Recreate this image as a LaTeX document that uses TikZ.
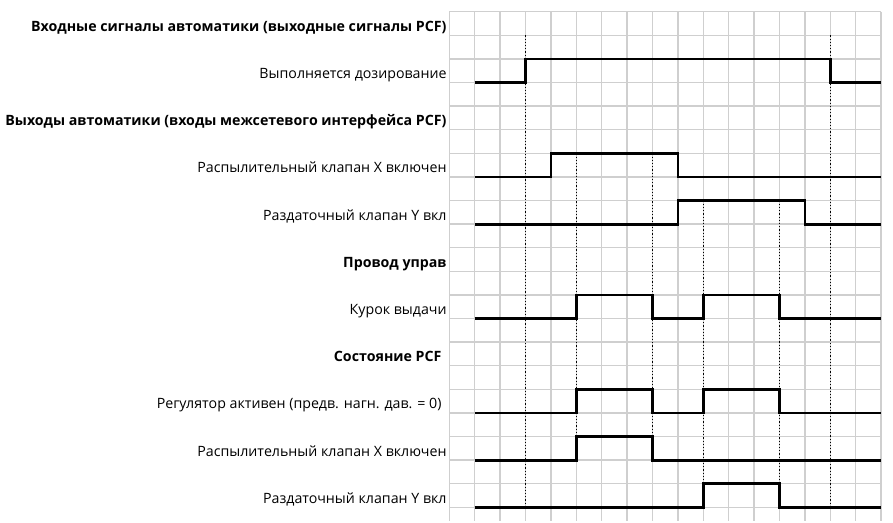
\documentclass[tikz,border=0pt]{standalone}
\usepackage{fontspec}
\setmainfont{Open Sans}
\usetikzlibrary{positioning}

\begin{document}
\begin{tikzpicture}[
  font=\fontsize{14.2}{17}\selectfont,
  gridline/.style={gray!38, line width=1.4pt},
  marker/.style={black, dotted, line width=1.2pt},
  wave/.style={black, line width=2.8pt, line join=miter},
  sig/.style={anchor=base east, inner sep=0pt},
  head/.style={sig, font=\fontsize{14.2}{17}\selectfont\bfseries}
]
\useasboundingbox (0,0) rectangle (893pt,-522pt);
\begin{scope}[shift={(449.3pt,-11.7pt)}, x=25.4pt, y=-23.6pt]
  % grid
  \foreach \k in {0,...,21}
    \draw[gridline] (0,\k) -- (17,\k);
  \foreach \c in {0,...,17}
    \draw[gridline] (\c,0) -- (\c,21.6);

  % timing marks
  \draw[marker] (3,1) -- (3,21);
  \draw[marker] (15,1) -- (15,21);
  \draw[marker] (5,6) -- (5,18);
  \draw[marker] (8,6) -- (8,18);
  \draw[marker] (10,8) -- (10,20);
  \draw[marker] (13,8) -- (13,20);

  % labels
  \node[head] (hdrin)   at (-0.1,0.83)  {Входные сигналы автоматики (выходные сигналы PCF)};
  \node[sig]  (dosing)  at (-0.1,2.83)  {Выполняется дозирование};
  \node[head] (hdrout)  at (-0.1,4.83)  {Выходы автоматики (входы межсетевого интерфейса PCF)};
  \node[sig]  (sprayx)  at (-0.1,6.83)  {Распылительный клапан X включен};
  \node[sig]  (dispy)   at (-0.1,8.83)  {Раздаточный клапан Y вкл};
  \node[head] (hdrwire) at (-0.1,10.83) {Провод управ};
  \node[sig]  (trigger) at (-0.1,12.83) {Курок выдачи};
  \node[head] (hdrpcf)  at (-0.3,14.83) {Состояние PCF};
  \node[sig]  (regact)  at (-0.3,16.83) {Регулятор активен (предв. нагн. дав. = 0)};
  \node[sig]  (pcfx)    at (-0.1,18.83) {Распылительный клапан X включен};
  \node[sig]  (pcfy)    at (-0.1,20.83) {Раздаточный клапан Y вкл};

  % waveforms
  \draw[wave] (1,3) -| (3,2) -| (15,3) -- (17,3);
  \draw[wave] (1,7) -| (4,6) -| (9,7) -- (17,7);
  \draw[wave] (1,9) -| (9,8) -| (14,9) -- (17,9);
  \draw[wave] (1,13) -| (5,12) -| (8,13) -| (10,12) -| (13,13) -- (17,13);
  \draw[wave] (1,17) -| (5,16) -| (8,17) -| (10,16) -| (13,17) -- (17,17);
  \draw[wave] (1,19) -| (5,18) -| (8,19) -- (17,19);
  \draw[wave] (1,21) -| (10,20) -| (13,21) -- (17,21);
\end{scope}
\end{tikzpicture}
\end{document}
